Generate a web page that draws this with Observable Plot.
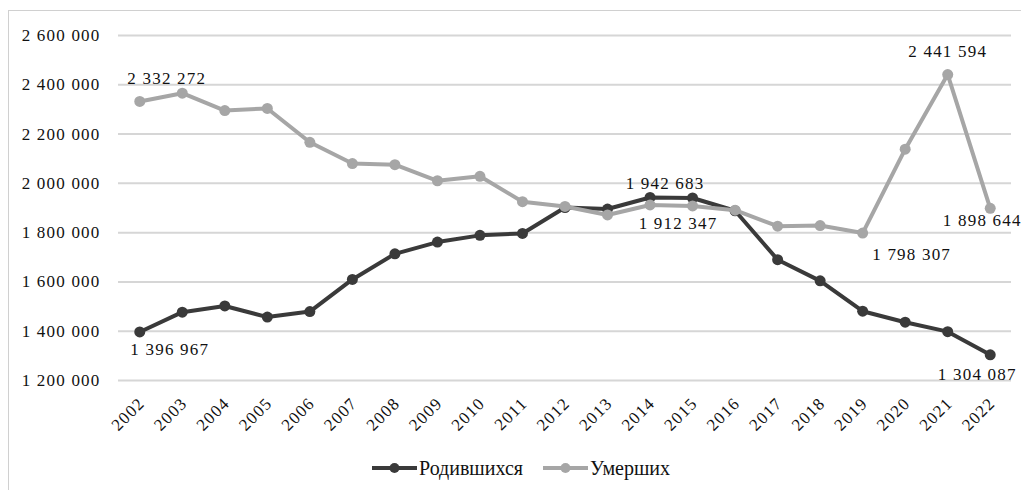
<!DOCTYPE html>
<html><head><meta charset="utf-8">
<script src="https://cdn.jsdelivr.net/npm/d3@7"></script>
<script src="https://cdn.jsdelivr.net/npm/@observablehq/plot@0.6"></script>
<style>
body{margin:0;background:#fff;font-family:'Liberation Serif','Times New Roman',serif;color:#111;}
#wrap{position:relative;width:1021px;height:490px;overflow:hidden;}
#frame{position:absolute;left:8px;top:10px;width:1040px;height:500px;border:1px solid #d0d0d0;box-sizing:border-box;pointer-events:none;}
#chart{position:absolute;left:0;top:0;}
#chart svg text{font-family:'Liberation Serif','Times New Roman',serif;}
#legend{position:absolute;left:372px;top:454px;height:28px;display:flex;align-items:center;gap:20px;font-size:20px;}
.item{display:flex;align-items:center;}
.item svg{margin-right:2px;}
</style>
</head><body>
<div id="wrap"><div id="chart"></div><div id="legend"></div><div id="frame"></div></div>
<script>
const years = [2002,2003,2004,2005,2006,2007,2008,2009,2010,2011,2012,2013,2014,2015,2016,2017,2018,2019,2020,2021,2022];
const births = [1396967,1477301,1502477,1457376,1479637,1610122,1713947,1761687,1788948,1796629,1902084,1895822,1942683,1940579,1888729,1690307,1604344,1481074,1436514,1398253,1304087];
const deaths = [2332272,2365826,2295402,2303935,2166703,2080445,2075954,2010543,2028516,1925720,1906335,1871809,1912347,1908541,1891015,1826125,1828910,1798307,2138586,2441594,1898644];
const yTicks = [1200000,1400000,1600000,1800000,2000000,2200000,2400000,2600000];
const seriesNames = ["Родившихся","Умерших"];
const birthLabelYears = [2002,2014,2022];
const deathLabelYears = [2002,2014,2019,2021,2022];

const colBirth = "#3a3a3a", colDeath = "#a6a6a6";
const fmt = v => d3.format(",")(v).replace(/,/g, " ");

// label offsets (pixels) keyed by series+year
const offs = {
  "b2002":[30,18],"b2014":[15,-14],"b2022":[-13,20],
  "d2002":[27,-23],"d2014":[28,19],"d2019":[49,21],"d2021":[0,-23],"d2022":[-8,12]
};
const labelMarks = [];
birthLabelYears.forEach(y => {
  const i = years.indexOf(y), o = offs["b"+y];
  labelMarks.push(Plot.text([births[i]], {x: () => y, y: d => d, text: fmt, dx:o[0], dy:o[1]}));
});
deathLabelYears.forEach(y => {
  const i = years.indexOf(y), o = offs["d"+y];
  labelMarks.push(Plot.text([deaths[i]], {x: () => y, y: d => d, text: fmt, dx:o[0], dy:o[1]}));
});

const chart = Plot.plot({
  width:1021, height:440, marginLeft:118, marginRight:10, marginTop:35, marginBottom:60,
  style:{fontFamily:"'Liberation Serif','Times New Roman',serif", fontSize:"17px", color:"#111", background:"transparent", letterSpacing:"1.2px", overflow:"visible"},
  x:{type:"point", domain:years, padding:0.5, round:false, axis:null},
  y:{domain:[1200000,2600000], axis:null},
  marks:[
    Plot.ruleY(yTicks, {stroke:"#d6d6d6", strokeWidth:2}),
    Plot.text(yTicks, {y:d=>d, text:fmt, frameAnchor:"left", textAnchor:"end", dx:-18}),
    Plot.text(years, {x:d=>d, text:d=>String(d), frameAnchor:"bottom", rotate:-45, textAnchor:"end", lineAnchor:"middle", dx:2, dy:20}),
    Plot.line(years, {x:d=>d, y:(d,i)=>births[i], stroke:colBirth, strokeWidth:4}),
    Plot.dot(years, {x:d=>d, y:(d,i)=>births[i], r:5.5, fill:colBirth}),
    Plot.line(years, {x:d=>d, y:(d,i)=>deaths[i], stroke:colDeath, strokeWidth:4}),
    Plot.dot(years, {x:d=>d, y:(d,i)=>deaths[i], r:5.5, fill:colDeath}),
    ...labelMarks
  ]
});
document.getElementById("chart").appendChild(chart);

const leg = document.getElementById("legend");
[[seriesNames[0],colBirth],[seriesNames[1],colDeath]].forEach(([name,c]) => {
  const it = document.createElement("div"); it.className="item";
  it.innerHTML = `<svg width="45" height="14"><line x1="0" y1="7" x2="45" y2="7" stroke="${c}" stroke-width="4"/><circle cx="22.5" cy="7" r="5" fill="${c}"/></svg><span>${name}</span>`;
  leg.appendChild(it);
});
</script>
</body></html>
